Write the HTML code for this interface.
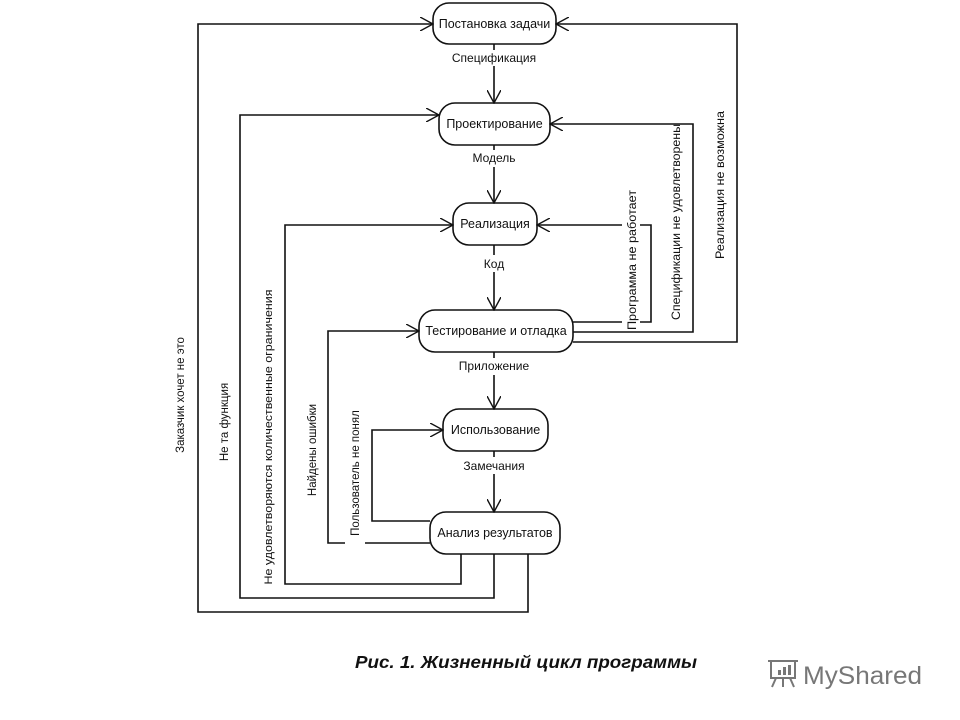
<!DOCTYPE html>
<html><head><meta charset="utf-8"><style>
html,body{margin:0;padding:0;background:#fff;width:960px;height:720px;overflow:hidden}
svg text{font-family:"Liberation Sans",sans-serif;fill:#111}
</style></head><body>
<svg width="960" height="720" viewBox="0 0 960 720" xmlns="http://www.w3.org/2000/svg">
<defs>
<marker id="a" viewBox="0 0 14 14" refX="13" refY="7" markerWidth="14" markerHeight="14" markerUnits="userSpaceOnUse" orient="auto">
<path d="M0,0 L13,7 L0,14" fill="none" stroke="#111" stroke-width="1.4"/></marker>
</defs>
<g fill="none" stroke="#111" stroke-width="1.6">
<rect x="433" y="3" width="123" height="41" rx="16"/>
<rect x="439" y="103" width="111" height="42" rx="16"/>
<rect x="453" y="203" width="84" height="42" rx="16"/>
<rect x="419" y="310" width="154" height="42" rx="16"/>
<rect x="443" y="409" width="105" height="42" rx="16"/>
<rect x="430" y="512" width="130" height="42" rx="16"/>
<path d="M494,44 V50 M494,66 V103" marker-end="url(#a)"/>
<path d="M494,145 V150 M494,167 V203" marker-end="url(#a)"/>
<path d="M494,245 V255 M494,272 V310" marker-end="url(#a)"/>
<path d="M494,352 V358 M494,375 V409" marker-end="url(#a)"/>
<path d="M494,451 V457 M494,474 V512" marker-end="url(#a)"/>
<path d="M528,554 V612 H198 V24 H433" marker-end="url(#a)"/>
<path d="M494,554 V598 H240 V115 H439" marker-end="url(#a)"/>
<path d="M461,554 V584 H285 V225 H453" marker-end="url(#a)"/>
<path d="M430,543 H365 M345,543 H328 V331 H419" marker-end="url(#a)"/>
<path d="M430,521 H372 V430 H443" marker-end="url(#a)"/>
<path d="M573,322 H622 M640,322 H651 V225 H640 M622,225 H537" marker-end="url(#a)"/>
<path d="M573,332 H693 V124 H666 M666,124 H550" marker-end="url(#a)"/>
<path d="M573,342 H737 V24 H556" marker-end="url(#a)"/>
</g>
<g font-size="12.5" text-anchor="middle">
<text x="494.5" y="28">Постановка задачи</text>
<text x="494.5" y="128">Проектирование</text>
<text x="495" y="228">Реализация</text>
<text x="496" y="335">Тестирование и отладка</text>
<text x="495.5" y="434">Использование</text>
<text x="495" y="537">Анализ результатов</text>
<text x="494" y="62" font-size="12">Спецификация</text>
<text x="494" y="162" font-size="12">Модель</text>
<text x="494" y="268" font-size="12">Код</text>
<text x="494" y="370" font-size="12">Приложение</text>
<text x="494" y="470" font-size="12">Замечания</text>
</g>
<g font-size="11.5" text-anchor="middle">
<text transform="translate(184,395) rotate(-90)">Заказчик хочет не это</text>
<text transform="translate(228,422) rotate(-90)">Не та функция</text>
<text transform="translate(272,437) rotate(-90)" font-size="11" textLength="295" lengthAdjust="spacingAndGlyphs">Не удовлетворяются количественные ограничения</text>
<text transform="translate(316,450) rotate(-90)">Найдены ошибки</text>
<text transform="translate(359,473) rotate(-90)">Пользователь не понял</text>
<text transform="translate(636,260) rotate(-90)" textLength="140" lengthAdjust="spacingAndGlyphs">Программа не работает</text>
<text transform="translate(680,222) rotate(-90)" textLength="196" lengthAdjust="spacingAndGlyphs">Спецификации не удовлетворены</text>
<text transform="translate(724,185) rotate(-90)" textLength="148" lengthAdjust="spacingAndGlyphs">Реализация не возможна</text>
</g>
<text x="355" y="668" font-size="17.5" font-weight="bold" font-style="italic" textLength="342" lengthAdjust="spacingAndGlyphs">Рис. 1. Жизненный цикл программы</text>
<g stroke="#777" fill="none" stroke-width="2">
<rect x="771" y="661" width="24" height="17"/>
<path d="M768,661 H798 M776,678 L772,687 M790,678 L794,687 M783,678 V687"/>
</g>
<g fill="#777"><rect x="778" y="670" width="3" height="5"/><rect x="783" y="667" width="3" height="8"/><rect x="788" y="665" width="3" height="10"/></g>
<text x="803" y="684" font-size="25" style="fill:#777" textLength="119" lengthAdjust="spacingAndGlyphs">MyShared</text>
</svg>
</body></html>
